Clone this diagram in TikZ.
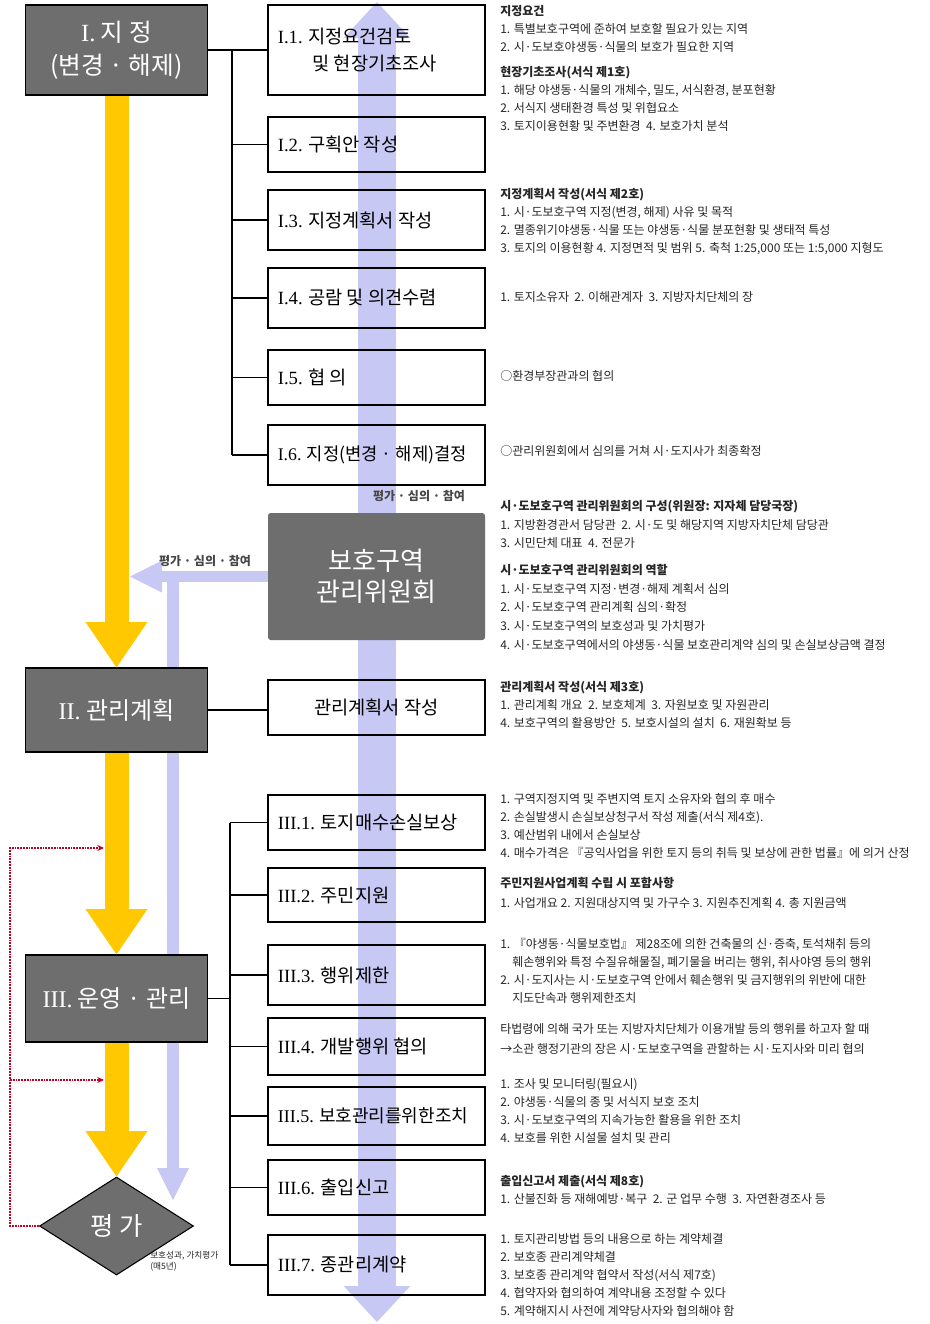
\documentclass[tikz,border=0pt]{standalone}
\usepackage{fontspec}
\setmainfont{Liberation Serif}
\newfontfamily\kr{Noto Sans CJK KR}
\usetikzlibrary{arrows.meta,shapes.geometric}
\definecolor{boxgray}{HTML}{6E6E6E}
\definecolor{gold}{HTML}{FFC800}
\definecolor{lav}{HTML}{C8C8F4}
\definecolor{dred}{HTML}{C00020}
\definecolor{txt}{HTML}{262626}
\newcommand\rmn[1]{{\rmfamily #1}}
\newcommand\bxl[1]{\makebox[148pt][l]{#1}}
\begin{document}
\begin{tikzpicture}[x=0.75pt,y=-0.75pt,
  lbox/.style={draw=black, line width=0.9pt, fill=boxgray, text=white, minimum width=136.5pt, inner sep=0pt, align=center, font=\kr\fontsize{18.5}{25}\selectfont},
  rbox/.style={draw=black, line width=0.8pt, minimum width=162.75pt, inner xsep=0pt, inner ysep=0pt, align=left, font=\kr\fontsize{14}{20.5}\selectfont},
  desc/.style={anchor=north west, inner sep=0pt, align=left, text=txt, font=\kr\fontsize{9}{13.5}\selectfont},
  brk/.style={draw=black, line width=0.9pt},
  goldarrow/.style={draw=gold, line width=18pt, -{Triangle[width=46.5pt,length=34pt,line width=0pt]}},
  lavmain/.style={draw=lav, line width=28pt, {Triangle[width=50pt,length=27pt,line width=0pt]}-{Triangle[width=50pt,length=27pt,line width=0pt]}},
  lavside/.style={draw=lav, line width=8.5pt, -{Triangle[width=24pt,length=24pt,line width=0pt]}},
  reddot/.style={draw=dred, line width=1.5pt, dash pattern=on 1.3pt off 0.8pt},
  lbl/.style={inner sep=0pt, text=black!72, font=\kr\fontsize{9}{11}\selectfont\bfseries}]

\fill[white] (0,0) rectangle (930,1324);
\useasboundingbox (0,0) rectangle (930,1324);

% named coordinates
\coordinate (lavtop) at (377,2);
\coordinate (lavbot) at (377,1322);
\coordinate (lavL) at (130,576.5);
\coordinate (lavV) at (173,571);
\coordinate (lavVb) at (173,1200);
\coordinate (bx1) at (232,0);
\coordinate (bx3) at (230,0);
\coordinate (rx) at (10,0);
\coordinate (ra1) at (104,848);
\coordinate (ra2) at (104,1080);

% lavender arrows (behind everything)
\draw[lavmain] (lavtop) -- (lavbot);
\draw[lavside] (lavV) -- (lavVb);

% left column
\node[lbox, minimum height=67.5pt] (I) at (116.5,50) {\rmn{I.} 지 정\\(변경 · 해제)};
\node[lbox, minimum height=63pt, font=\kr\fontsize{18}{24}\selectfont] (II) at (116.5,710) {\rmn{II.} 관리계획};
\node[lbox, minimum height=65.25pt, font=\kr\fontsize{18}{24}\selectfont] (III) at (116.5,998.5) {\rmn{III.} 운영 · 관리};
\node[diamond, draw=black, line width=0.8pt, fill=boxgray, text=white, inner sep=0pt, minimum width=115.5pt, minimum height=73.5pt, font=\kr\fontsize{19}{21}\selectfont] (ev) at (116.5,1226) {평 가};
\node[anchor=north west, inner sep=0pt, align=left, text=txt, font=\kr\fontsize{6.5}{8.5}\selectfont] (evl) at (150,1251) {보호성과, 가치평가\\(매5년)};

% gold arrows
\draw[goldarrow] (I.south) -- (II.north);
\draw[goldarrow] (II.south) -- (III.north);
\draw[goldarrow] (III.south) -- (ev.north);

% right column boxes
\node[rbox, minimum height=67.5pt] (I1) at (376.5,50) {\bxl{\rmn{I.1.} 지정요건검토}\\\bxl{\hspace*{26pt}및 현장기초조사}};
\node[rbox, minimum height=41.25pt] (I2) at (376.5,144.5) {\bxl{\rmn{I.2.} 구획안 작성}};
\node[rbox, minimum height=45pt] (I3) at (376.5,220) {\bxl{\rmn{I.3.} 지정계획서 작성}};
\node[rbox, minimum height=45pt] (I4) at (376.5,298) {\bxl{\rmn{I.4.} 공람 및 의견수렴}};
\node[rbox, minimum height=41.25pt] (I5) at (376.5,377.5) {\bxl{\rmn{I.5.} 협 의}};
\node[rbox, minimum height=45pt, font=\kr\fontsize{13.3}{20}\selectfont] (I6) at (376.5,455) {\bxl{\rmn{I.6.} 지정(변경 · 해제)결정}};
\node[fill=boxgray, rounded corners=2pt, minimum width=162.75pt, minimum height=95.25pt, inner sep=0pt, text=white, align=center, font=\kr\fontsize{19.5}{23}\selectfont] (com) at (376.5,576.5) {보호구역\\관리위원회};
\node[rbox, minimum height=41.25pt, align=center] (mg) at (376.5,707.5) {관리계획서 작성};
\node[rbox, minimum height=41.25pt] (III1) at (376.5,822.5) {\bxl{\rmn{III.1.} 토지매수손실보상}};
\node[rbox, minimum height=40.5pt] (III2) at (376.5,895) {\bxl{\rmn{III.2.} 주민지원}};
\node[rbox, minimum height=45pt] (III3) at (376.5,975) {\bxl{\rmn{III.3.} 행위제한}};
\node[rbox, minimum height=42.75pt] (III4) at (376.5,1046.5) {\bxl{\rmn{III.4.} 개발행위 협의}};
\node[rbox, minimum height=43.5pt, font=\kr\fontsize{13.5}{20}\selectfont] (III5) at (376.5,1116) {\bxl{\rmn{III.5.} 보호관리를위한조치}};
\node[rbox, minimum height=41.25pt] (III6) at (376.5,1187.5) {\bxl{\rmn{III.6.} 출입신고}};
\node[rbox, minimum height=45pt] (III7) at (376.5,1265) {\bxl{\rmn{III.7.} 종관리계약}};

% lavender arrow from committee to the left
\draw[lavside] (com.west) -- (lavL);

% labels
\node[lbl] (lb1) at (419,496) {평가 · 심의 · 참여};
\node[lbl] (lb2) at (205,561) {평가 · 심의 · 참여};

% brackets
\draw[brk] (I.east) -- (I1.west);
\draw[brk] (bx1 |- I1.west) -- (bx1 |- I6.west);
\foreach \k in {I2,I3,I4,I5,I6} \draw[brk] (bx1 |- \k.west) -- (\k.west);
\draw[brk] (II.east) -- (II.east -| mg.west);
\draw[brk] (III.east) -- (III.east -| bx3);
\draw[brk] (bx3 |- III1.west) -- (bx3 |- III7.west);
\foreach \k in {III1,III2,III3,III4,III5,III6,III7} \draw[brk] (bx3 |- \k.west) -- (\k.west);

% red dotted feedback
\draw[reddot,-{Stealth[length=5pt,width=4.5pt]}] (ev.west) -- (ev.west -| rx) -- (rx |- ra1) -- (ra1);
\draw[reddot,-{Stealth[length=5pt,width=4.5pt]}] (rx |- ra2) -- (ra2);

% descriptions
\node[desc] (dA) at (500,5) {{\bfseries 지정요건}\\
1. 특별보호구역에 준하여 보호할 필요가 있는 지역\\
2. 시·도보호야생동·식물의 보호가 필요한 지역\\[5pt]
{\bfseries 현장기초조사(서식 제1호)}\\
1. 해당 야생동·식물의 개체수, 밀도, 서식환경, 분포현황\\
2. 서식지 생태환경 특성 및 위협요소\\
3. 토지이용현황 및 주변환경 \ 4. 보호가치 분석};
\node[desc] (dB) at (500,188) {{\bfseries 지정계획서 작성(서식 제2호)}\\
1. 시·도보호구역 지정(변경, 해제) 사유 및 목적\\
2. 멸종위기야생동·식물 또는 야생동·식물 분포현황 및 생태적 특성\\
3. 토지의 이용현황 4. 지정면적 및 범위 5. 축척 1:25,000 또는 1:5,000 지형도};
\node[desc] (dC) at (500,291) {1. 토지소유자 \ 2. 이해관계자 \ 3. 지방자치단체의 장};
\node[desc] (dD) at (500,370) {○환경부장관과의 협의};
\node[desc] (dE) at (500,445) {○관리위원회에서 심의를 거쳐 시·도지사가 최종확정};
\node[desc, font=\kr\fontsize{9}{14}\selectfont] (dF) at (500,500) {{\bfseries 시·도보호구역 관리위원회의 구성(위원장: 지자체 담당국장)}\\
1. 지방환경관서 담당관 \ 2. 시·도 및 해당지역 지방자치단체 담당관\\
3. 시민단체 대표 \ 4. 전문가\\[6pt]
{\bfseries 시·도보호구역 관리위원회의 역할}\\
1. 시·도보호구역 지정·변경·해제 계획서 심의\\
2. 시·도보호구역 관리계획 심의·확정\\
3. 시·도보호구역의 보호성과 및 가치평가\\
4. 시·도보호구역에서의 야생동·식물 보호관리계약 심의 및 손실보상금액 결정};
\node[desc] (dG) at (500,681) {{\bfseries 관리계획서 작성(서식 제3호)}\\
1. 관리계획 개요 \ 2. 보호체계 \ 3. 자원보호 및 자원관리\\
4. 보호구역의 활용방안 \ 5. 보호시설의 설치 \ 6. 재원확보 등};
\node[desc] (dH) at (500,793) {1. 구역지정지역 및 주변지역 토지 소유자와 협의 후 매수\\
2. 손실발생시 손실보상청구서 작성 제출(서식 제4호).\\
3. 예산범위 내에서 손실보상\\
4. 매수가격은 『공익사업을 위한 토지 등의 취득 및 보상에 관한 법률』에 의거 산정};
\node[desc, font=\kr\fontsize{9}{15}\selectfont] (dI) at (500,877) {{\bfseries 주민지원사업계획 수립 시 포함사항}\\
1. 사업개요 2. 지원대상지역 및 가구수 3. 지원추진계획 4. 총 지원금액};
\node[desc] (dJ) at (500,938) {1. 『야생동·식물보호법』 제28조에 의한 건축물의 신·증축, 토석채취 등의\\
\hspace*{1em}훼손행위와 특정 수질유해물질, 폐기물을 버리는 행위, 취사야영 등의 행위\\
2. 시·도지사는 시·도보호구역 안에서 훼손행위 및 금지행위의 위반에 대한\\
\hspace*{1em}지도단속과 행위제한조치};
\node[desc, font=\kr\fontsize{9}{15}\selectfont] (dK) at (500,1023) {타법령에 의해 국가 또는 지방자치단체가 이용개발 등의 행위를 하고자 할 때\\
→소관 행정기관의 장은 시·도보호구역을 관할하는 시·도지사와 미리 협의};
\node[desc] (dL) at (500,1078) {1. 조사 및 모니터링(필요시)\\
2. 야생동·식물의 종 및 서식지 보호 조치\\
3. 시·도보호구역의 지속가능한 활용을 위한 조치\\
4. 보호를 위한 시설물 설치 및 관리};
\node[desc] (dM) at (500,1175) {{\bfseries 출입신고서 제출(서식 제8호)}\\
1. 산불진화 등 재해예방·복구 \ 2. 군 업무 수행 \ 3. 자연환경조사 등};
\node[desc] (dN) at (500,1233) {1. 토지관리방법 등의 내용으로 하는 계약체결\\
2. 보호종 관리계약체결\\
3. 보호종 관리계약 협약서 작성(서식 제7호)\\
4. 협약자와 협의하여 계약내용 조정할 수 있다\\
5. 계약해지시 사전에 계약당사자와 협의해야 함};
\end{tikzpicture}
\end{document}
